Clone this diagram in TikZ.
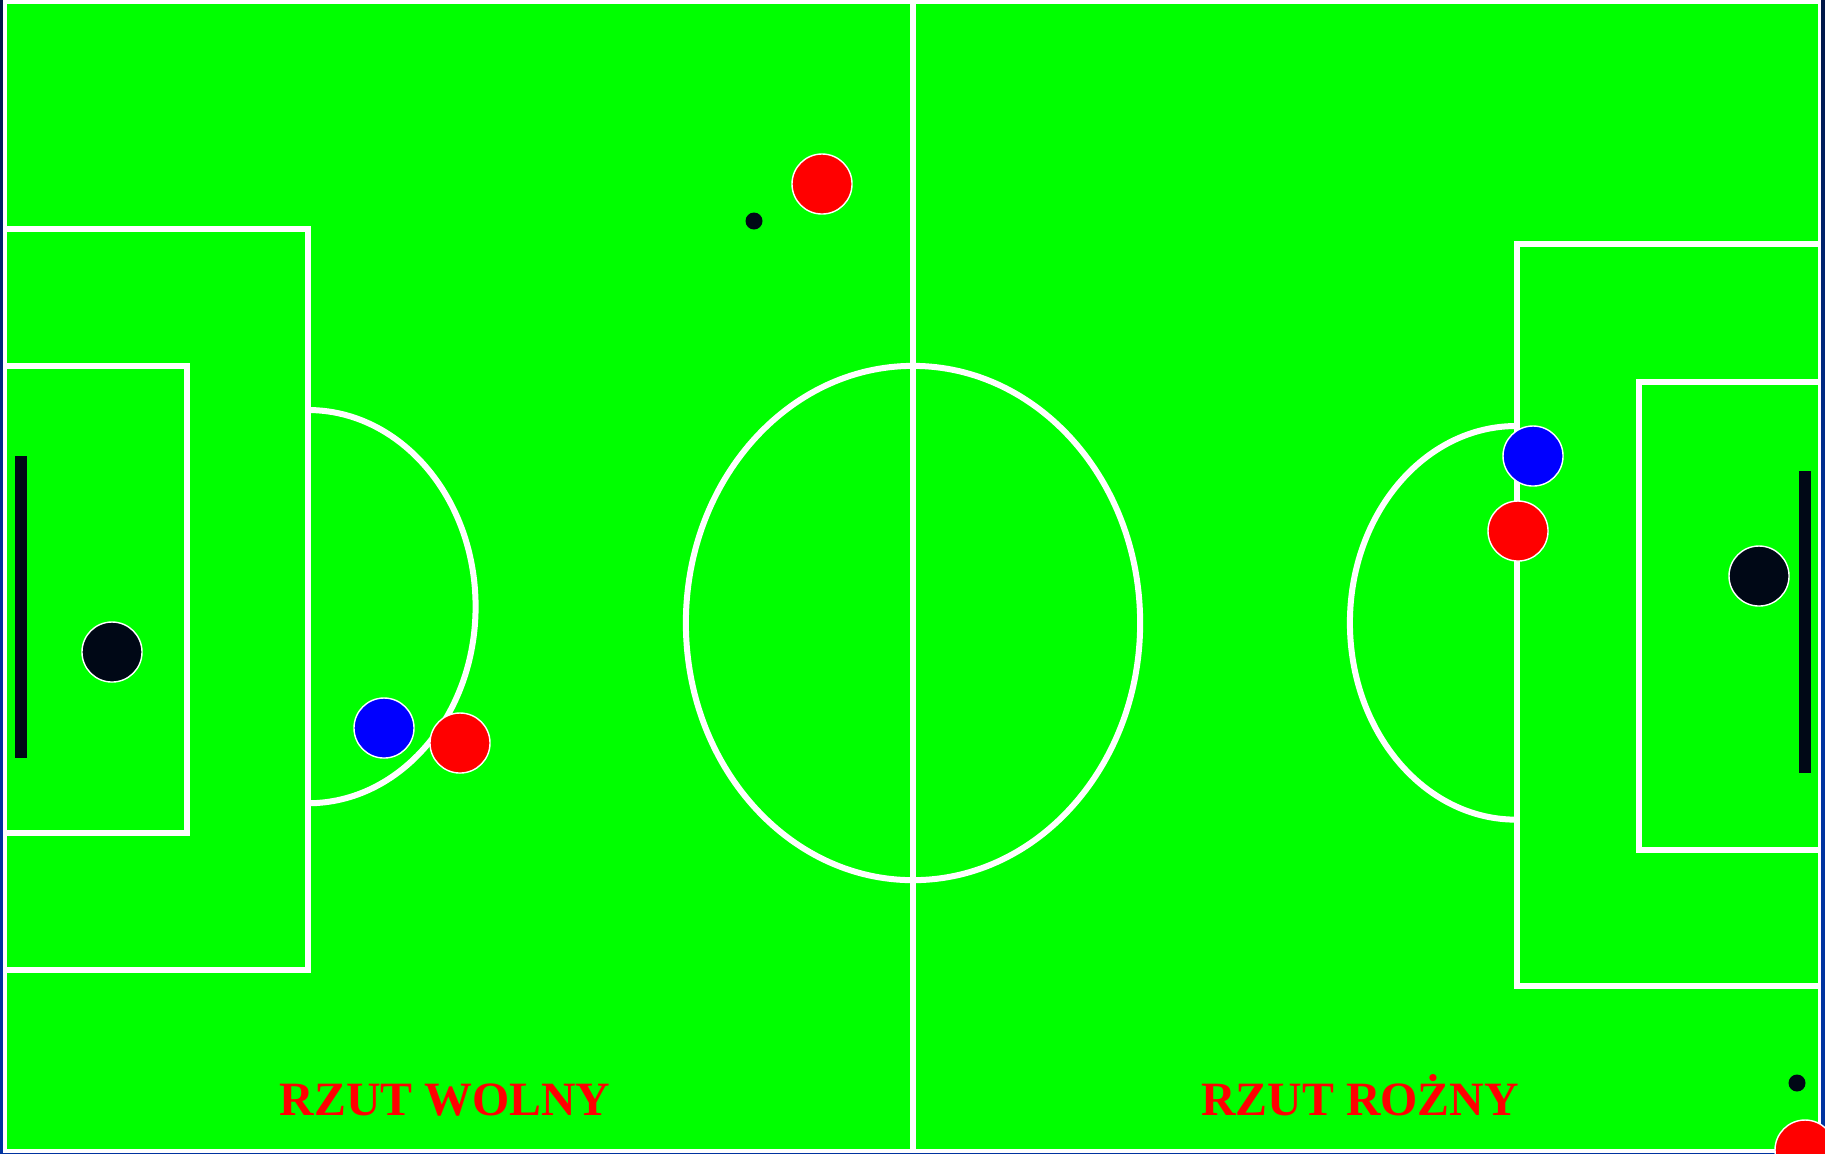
\documentclass[tikz,border=0pt]{standalone}
\usepackage{fontspec}
\setmainfont{Liberation Serif}
\usetikzlibrary{positioning}
\definecolor{pitchgreen}{RGB}{0,255,0}
\definecolor{goaldark}{RGB}{0,8,22}
\definecolor{framedark}{RGB}{0,22,70}
\definecolor{frameblue}{RGB}{0,51,160}
\tikzset{
  pitchline/.style={draw=white, line width=0.06cm},
  player/.style={
    circle, minimum size=0.6cm, inner sep=0pt,
    draw=white, line width=0.4pt, fill=#1
  },
  ballmark/.style={circle, minimum size=0.17cm, inner sep=0pt, fill=goaldark},
  goalbar/.style={fill=goaldark},
  setpiece/.style={
    anchor=base, text=red,
    font=\fontsize{13.6}{16}\selectfont\bfseries
  },
}
\begin{document}
\begin{tikzpicture}[x=0.01cm, y=-0.01cm]
  \useasboundingbox (0,0) rectangle (1825,1153);
  \clip (0,0) rectangle (1825,1153);
  \shade[top color=framedark, bottom color=frameblue, middle color=frameblue]
    (0,0) rectangle (1825,1153);
  \filldraw[fill=pitchgreen, draw=white, line width=0.035cm] (5,2) rectangle (1819.5,1151);

  \draw[pitchline] (913,623) ellipse [x radius=2.27cm, y radius=2.57cm];
  \draw[pitchline] (913,2) -- (913,1151);

  \draw[pitchline] (5,229) -| (308,970) -- (5,970);
  \draw[pitchline] (5,366) -| (187,833) -- (5,833);
  \draw[pitchline] (308,410) arc[start angle=90, end angle=-90, x radius=1.675cm, y radius=1.965cm];

  \draw[pitchline] (1820,244) -| (1517,986) -- (1820,986);
  \draw[pitchline] (1820,382) -| (1639,850) -- (1820,850);
  \draw[pitchline] (1516,426) arc[start angle=90, end angle=270, x radius=1.66cm, y radius=1.967cm];

  \fill[goalbar] (15,456) rectangle (27,758);
  \fill[goalbar] (1799,471) rectangle (1811,773);

  \node[player=goaldark] (keeperleft)  at (112,652)  {};
  \node[player=blue]     (blueleft)    at (384,728)  {};
  \node[player=red]      (redleft)     at (460,743)  {};
  \node[player=red]      (redtop)      at (822,184)  {};
  \node[ballmark]        (ballfree)    at (754,221)  {};
  \node[player=blue]     (blueright)   at (1533,456) {};
  \node[player=red]      (redright)    at (1518,531) {};
  \node[player=goaldark] (keeperright) at (1759,576) {};
  \node[ballmark]        (ballcorner)  at (1797,1083) {};
  \node[player=red]      (redcorner)   at (1805,1150) {};

  \node[setpiece] (freekick)   at (445,1115)  {RZUT WOLNY};
  \node[setpiece] (cornerkick) at (1360,1115) {RZUT ROŻNY};
\end{tikzpicture}
\end{document}
